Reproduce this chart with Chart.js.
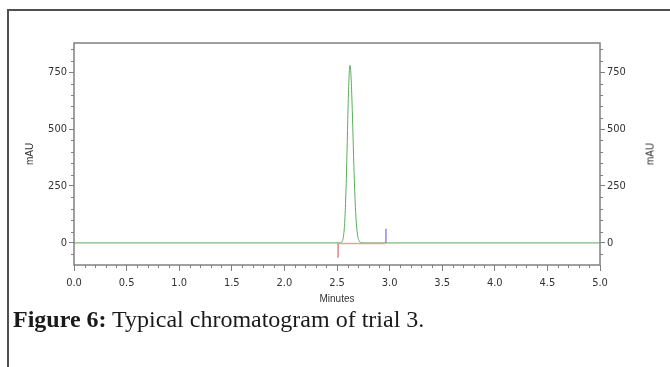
<!DOCTYPE html>
<html>
<head>
<meta charset="utf-8">
<script src="https://cdn.jsdelivr.net/npm/chart.js@4.4.0/dist/chart.umd.min.js"></script>
<style>
html, body { margin: 0; padding: 0; background: #fff; }
body { width: 670px; height: 367px; position: relative; overflow: hidden; }
#frame { position: absolute; left: 7px; top: 9px; width: 700px; height: 400px;
  border-left: 2px solid #505050; border-top: 2px solid #505050; }
#wrap { position: absolute; left: 0; top: 0; width: 670px; height: 367px; }
#rtitle { position: absolute; left: 650px; top: 154px; transform: translate(-50%, -50%) rotate(-90deg);
  font: 10px "Liberation Sans", Arial, sans-serif; color: #333; }
#caption { position: absolute; left: 13px; top: 306px; font-family: "Liberation Serif", serif;
  font-size: 24px; color: #1a1a1a; white-space: nowrap; }
#caption b { font-weight: bold; }
</style>
</head>
<body>
<div id="frame"></div>
<div id="wrap"><canvas id="chromChart" width="670" height="367"></canvas></div>
<div id="rtitle">mAU</div>
<div id="caption"><b>Figure 6:</b> Typical chromatogram of trial 3.</div>
<script>
// retention time (min) and detector signal (mAU), green trace
const signalTime = [0, 2.50, 2.53, 2.55, 2.56, 2.57, 2.58, 2.59, 2.60, 2.61, 2.62, 2.623, 2.63, 2.64, 2.65,
  2.66, 2.67, 2.68, 2.69, 2.70, 2.71, 2.72, 2.74, 2.76, 2.80, 5.0];
const signalMAU = [0, 0, 1, 8, 25, 68, 157, 303, 493, 673, 774, 780, 758, 657, 506,
  346, 210, 113, 54, 23, 9, 3, 1, 0, 0, 0];

// integration marks
const startMarkTime = [2.51, 2.51];
const startMarkMAU = [-65, 0];
const baselineTime = [2.51, 2.96];
const baselineMAU = [-3, -3];
const endMarkTime = [2.965, 2.965];
const endMarkMAU = [0, 62];

const xTickLabels = [0, 0.5, 1.0, 1.5, 2.0, 2.5, 3.0, 3.5, 4.0, 4.5, 5.0];
const yTickLabels = [0, 250, 500, 750];
const xRange = [0, 5];
const yRange = [-97, 878];

const toPoints = (xs, ys) => xs.map((x, i) => ({ x: x, y: ys[i] }));

const tickFont = { family: '"Liberation Sans Narrow", "DejaVu Sans Condensed", "Liberation Sans", sans-serif', size: 11 };
const axisGray = '#808080';

const frameAndMinor = {
  id: 'frameAndMinor',
  afterDatasetsDraw(chart) {
    const { ctx, chartArea: a, scales: { x, y } } = chart;
    ctx.save();
    ctx.strokeStyle = axisGray;
    ctx.lineWidth = 1;
    ctx.beginPath();
    for (let i = 1; i < 50; i++) {
      if (i % 5 === 0) continue;
      const px = Math.round(x.getPixelForValue(i / 10)) + 0.5;
      ctx.moveTo(px, a.bottom);
      ctx.lineTo(px, a.bottom + 3);
    }
    for (let v = -50; v <= 850; v += 50) {
      if (v % 250 === 0) continue;
      const py = Math.round(y.getPixelForValue(v)) + 0.5;
      ctx.moveTo(a.left, py);
      ctx.lineTo(a.left - 3, py);
      ctx.moveTo(a.right, py);
      ctx.lineTo(a.right + 3, py);
    }
    ctx.stroke();
    ctx.lineWidth = 1.5;
    ctx.strokeRect(a.left, a.top, a.right - a.left, a.bottom - a.top);
    ctx.restore();
  }
};

const ctx = document.getElementById('chromChart').getContext('2d');
const chart = new Chart(ctx, {
  type: 'line',
  data: {
    datasets: [
      {
        label: 'baseline',
        data: toPoints(baselineTime, baselineMAU),
        borderColor: '#e8a0a0',
        borderWidth: 1.5,
        pointRadius: 0
      },
      {
        label: 'signal',
        data: toPoints(signalTime, signalMAU),
        borderColor: '#5aad5a',
        borderWidth: 1,
        pointRadius: 0,
        cubicInterpolationMode: 'monotone'
      },
      {
        label: 'start',
        data: toPoints(startMarkTime, startMarkMAU),
        borderColor: '#dd4444',
        borderWidth: 1,
        pointRadius: 0
      },
      {
        label: 'end',
        data: toPoints(endMarkTime, endMarkMAU),
        borderColor: '#8c8ce0',
        borderWidth: 1.5,
        pointRadius: 0
      }
    ]
  },
  options: {
    responsive: false,
    animation: false,
    layout: { padding: { top: 43, left: 0, right: 0, bottom: 0 } },
    plugins: { legend: { display: false }, tooltip: { enabled: false } },
    scales: {
      x: {
        type: 'linear',
        position: 'bottom',
        min: xRange[0], max: xRange[1],
        afterBuildTicks: s => { s.ticks = xTickLabels.map(v => ({ value: v })); },
        afterFit: s => { s.height = 102; },
        border: { display: false },
        grid: { drawOnChartArea: false, tickLength: 6, color: axisGray },
        ticks: { font: tickFont, color: '#333', padding: 6, maxRotation: 0, autoSkip: false,
          callback: v => Number(v).toFixed(1) },
        title: { display: true, text: 'Minutes', color: '#333',
          font: { family: '"Liberation Sans Narrow", "Liberation Sans", sans-serif', size: 10 },
          padding: { top: 0, bottom: 62 } }
      },
      y: {
        type: 'linear',
        position: 'left',
        min: yRange[0], max: yRange[1],
        afterBuildTicks: s => { s.ticks = yTickLabels.map(v => ({ value: v })); },
        afterFit: s => { s.width = 74; },
        border: { display: false },
        grid: { drawOnChartArea: false, tickLength: 5, color: axisGray },
        ticks: { font: tickFont, color: '#333', padding: 2 },
        title: { display: true, text: 'mAU', color: '#333',
          font: { family: '"Liberation Sans", sans-serif', size: 10 },
          padding: { top: 24, bottom: 0 } }
      },
      y2: {
        type: 'linear',
        position: 'right',
        min: yRange[0], max: yRange[1],
        afterBuildTicks: s => { s.ticks = yTickLabels.map(v => ({ value: v })); },
        afterFit: s => { s.width = 70; },
        border: { display: false },
        grid: { drawOnChartArea: false, tickLength: 5, color: axisGray },
        ticks: { font: tickFont, color: '#333', padding: 2 }
      }
    }
  },
  plugins: [frameAndMinor]
});
</script>
</body>
</html>
